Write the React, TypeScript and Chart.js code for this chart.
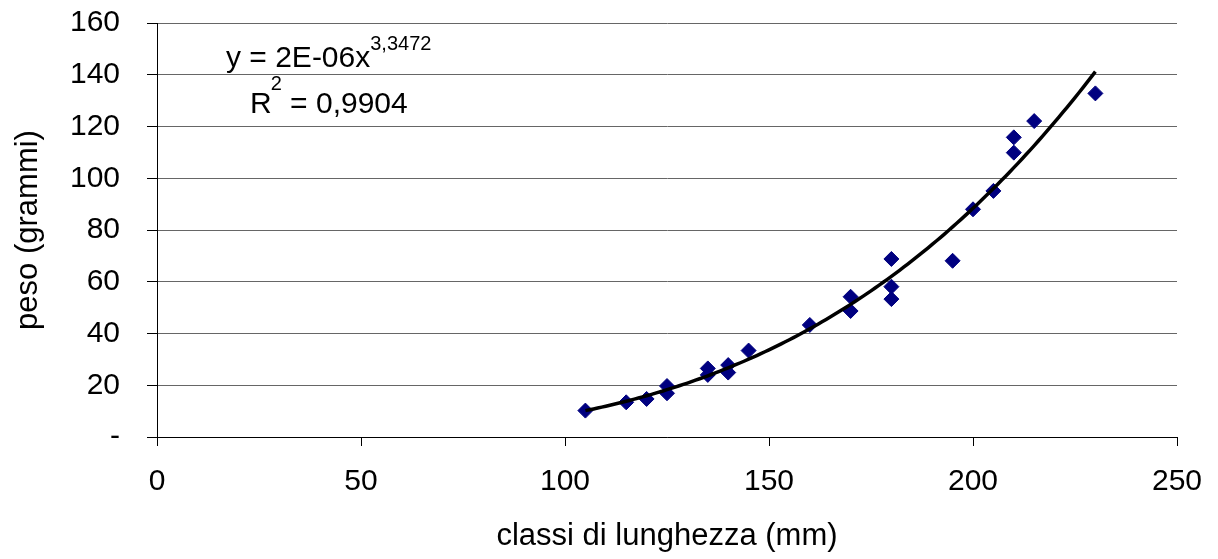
import React, { useEffect, useRef } from "react";
import { Chart, registerables } from "chart.js";

Chart.register(...registerables);

const lengths = [105, 115, 120, 125, 125, 135, 135, 140, 140, 145, 160, 170, 170, 180, 180, 180, 195, 200, 205, 210, 210, 215, 230];
const weights = [10.2, 13.4, 14.7, 16.9, 19.7, 24.0, 26.5, 24.9, 27.8, 33.4, 43.3, 48.7, 54.2, 68.8, 58.1, 53.3, 68.1, 88.0, 95.1, 109.9, 115.8, 122.1, 132.8];
const equationText = "y = 2E-06x";
const exponentText = "3,3472";
const r2Text = " = 0,9904";

const FONT = "'Liberation Sans', Arial, sans-serif";

// power-law trendline fitted (least squares on logs) from the data
function powerFit(xs: number[], ys: number[]) {
  const n = xs.length;
  let sx = 0, sy = 0, sxx = 0, sxy = 0;
  for (let i = 0; i < n; i++) {
    const lx = Math.log(xs[i]);
    const ly = Math.log(ys[i]);
    sx += lx; sy += ly; sxx += lx * lx; sxy += lx * ly;
  }
  const b = (n * sxy - sx * sy) / (n * sxx - sx * sx);
  const a = Math.exp((sy - b * sx) / n);
  return { a, b };
}

const fit = powerFit(lengths, weights);
const xMin = Math.min(...lengths);
const xMax = Math.max(...lengths);
const trendPoints: { x: number; y: number }[] = [];
for (let x = xMin; x <= xMax; x += 1) {
  trendPoints.push({ x, y: fit.a * Math.pow(x, fit.b) });
}

const equationPlugin = {
  id: "equation",
  afterDraw(chart: any) {
    const ctx = chart.ctx;
    ctx.save();
    ctx.fillStyle = "#000";
    ctx.textBaseline = "alphabetic";
    ctx.textAlign = "left";
    ctx.font = `30px ${FONT}`;
    ctx.fillText(equationText, 226, 67);
    const w = ctx.measureText(equationText).width;
    ctx.font = `20px ${FONT}`;
    ctx.fillText(exponentText, 226 + w, 50);
    ctx.font = `30px ${FONT}`;
    ctx.fillText("R", 250, 113);
    const rw = ctx.measureText("R").width;
    ctx.font = `20px ${FONT}`;
    ctx.fillText("2", 250 + rw - 1, 90);
    const sw = ctx.measureText("2").width;
    ctx.font = `30px ${FONT}`;
    ctx.fillText(r2Text, 250 + rw + sw - 1, 113);
    ctx.restore();
  },
};

export default function App() {
  const ref = useRef<HTMLCanvasElement>(null);
  useEffect(() => {
    if (!ref.current) return;
    const chart = new Chart(ref.current, {
      type: "scatter",
      data: {
        datasets: [
          {
            label: "trend",
            data: trendPoints,
            showLine: true,
            borderColor: "#000",
            borderWidth: 3.5,
            pointRadius: 0,
            tension: 0,
          },
          {
            label: "peso",
            data: lengths.map((x, i) => ({ x, y: weights[i] })),
            pointStyle: "rectRot",
            pointRadius: 7.5,
            backgroundColor: "#000080",
            borderColor: "#000080",
            borderWidth: 1,
          },
        ],
      },
      options: {
        responsive: false,
        animation: false,
        layout: { padding: { top: 23, right: 41, left: 0, bottom: 0 } },
        plugins: { legend: { display: false }, tooltip: { enabled: false } },
        scales: {
          x: {
            type: "linear",
            min: 0,
            max: 250,
            afterFit: (s: any) => { s.height = 122; s.paddingLeft = 0; s.paddingRight = 0; },
            ticks: { stepSize: 50, color: "#000", font: { family: FONT, size: 30 }, padding: 18, maxRotation: 0 },
            grid: { drawOnChartArea: false, drawTicks: true, tickLength: 9, color: "#000" },
            border: { color: "#000", width: 1 },
            title: { display: true, text: "classi di lunghezza (mm)", color: "#000", font: { family: FONT, size: 31 }, padding: { top: 0, bottom: 4 } },
          },
          y: {
            type: "linear",
            min: 0,
            max: 160,
            afterFit: (s: any) => { s.width = 157; s.paddingTop = 0; s.paddingBottom = 0; },
            ticks: {
              stepSize: 20,
              color: "#000",
              font: { family: FONT, size: 30 },
              padding: 27,
              callback: (v: any) => (v === 0 ? "-" : String(v)),
            },
            grid: { color: "#666", tickColor: "#000", tickLength: 10, lineWidth: 1 },
            border: { color: "#000", width: 1 },
            title: { display: true, text: "peso (grammi)", color: "#000", font: { family: FONT, size: 31 }, padding: { top: 10, bottom: 0 } },
          },
        },
      },
      plugins: [equationPlugin],
    });
    return () => chart.destroy();
  }, []);
  return (
    <div style={{ position: "absolute", left: 0, top: 0, width: 1218, height: 559, background: "#fff" }}>
      <canvas ref={ref} width={1218} height={559} />
    </div>
  );
}
